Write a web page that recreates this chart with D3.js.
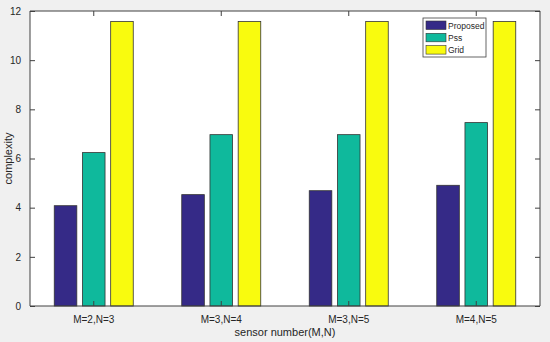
<!DOCTYPE html>
<meta charset="utf-8">
<head>
<script src="https://cdn.jsdelivr.net/npm/d3@7/dist/d3.min.js"></script>
<style>
  body { margin: 0; background: #f0f0f0; }
  text { font-family: "Liberation Sans", Arial, sans-serif; fill: #262626; }
</style>
</head>
<body>
<svg id="chart"></svg>
<script>
var categories = ["M=2,N=3", "M=3,N=4", "M=3,N=5", "M=4,N=5"];
var seriesNames = ["Proposed", "Pss", "Grid"];
var proposed = [4.08, 4.53, 4.69, 4.91];
var pss = [6.24, 6.97, 6.97, 7.46];
var grid = [11.57, 11.57, 11.57, 11.57];
var yTicks = [0, 2, 4, 6, 8, 10, 12];
var colors = ["#352a87", "#0fb99c", "#f9fb0e"];

var series = [proposed, pss, grid];

var width = 550, height = 342;
var pLeft = 30, pRight = 540, pTop = 11, pBottom = 306;

var svg = d3.select("#chart").attr("width", width).attr("height", height);

svg.append("rect").attr("x", pLeft).attr("y", pTop)
  .attr("width", pRight - pLeft).attr("height", pBottom - pTop).attr("fill", "#fff");

var x = d3.scaleBand().domain(categories).range([pLeft, pRight]);
var xs = d3.scaleBand().domain(seriesNames).range([-39.5, 39.5]).paddingInner(0.2);
var y = d3.scaleLinear().domain([0, 12]).range([pBottom, pTop]);

// bars
categories.forEach(function(c, i) {
  seriesNames.forEach(function(s, j) {
    var v = series[j][i];
    svg.append("rect")
      .attr("x", x(c) + x.bandwidth() / 2 + xs(s))
      .attr("y", y(v))
      .attr("width", xs.bandwidth())
      .attr("height", y(0) - y(v))
      .attr("fill", colors[j])
      .attr("stroke", "#333")
      .attr("stroke-width", 0.8);
  });
});

// axes (ticks inward, box)
var axL = svg.append("g").attr("transform", "translate(" + pLeft + ",0)")
  .call(d3.axisLeft(y).tickValues(yTicks).tickSize(-5).tickPadding(9));
var axR = svg.append("g").attr("transform", "translate(" + pRight + ",0)")
  .call(d3.axisRight(y).tickValues(yTicks).tickSize(-5).tickFormat(""));
var axB = svg.append("g").attr("transform", "translate(0," + pBottom + ")")
  .call(d3.axisBottom(x).tickSize(-5).tickPadding(10));
var axT = svg.append("g").attr("transform", "translate(0," + pTop + ")")
  .call(d3.axisTop(x).tickSize(-5).tickFormat(""));

[axL, axR, axB, axT].forEach(function(a) {
  a.select(".domain").attr("stroke", "#404040").attr("stroke-width", 1);
  a.selectAll(".tick line").attr("stroke", "#404040");
  a.selectAll("text").attr("font-size", 10).attr("fill", "#262626")
    .attr("font-family", "Liberation Sans, Arial, sans-serif");
});
axL.select(".domain").attr("d", "M0," + pTop + "V" + pBottom);
axR.select(".domain").attr("d", "M0," + pTop + "V" + pBottom);
axB.select(".domain").attr("d", "M" + pLeft + ",0H" + pRight);
axT.select(".domain").attr("d", "M" + pLeft + ",0H" + pRight);

// axis labels
svg.append("text").attr("x", (pLeft + pRight) / 2).attr("y", 336)
  .attr("text-anchor", "middle").attr("font-size", 11).text("sensor number(M,N)");
svg.append("text").attr("transform", "translate(12," + (pTop + pBottom) / 2 + ") rotate(-90)")
  .attr("text-anchor", "middle").attr("font-size", 11).text("complexity");

// legend
var lg = svg.append("g").attr("transform", "translate(423,18)");
lg.append("rect").attr("width", 63).attr("height", 39)
  .attr("fill", "#fff").attr("stroke", "#404040").attr("stroke-width", 0.8);
seriesNames.forEach(function(s, j) {
  lg.append("rect").attr("x", 3).attr("y", 3 + j * 12.3)
    .attr("width", 20).attr("height", 8.5)
    .attr("fill", colors[j]).attr("stroke", "#333").attr("stroke-width", 0.6);
  lg.append("text").attr("x", 25).attr("y", 10.5 + j * 12.3)
    .attr("font-size", 8.5).text(s);
});
</script>
</body>
